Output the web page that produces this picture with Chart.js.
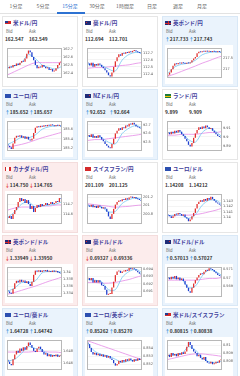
<!DOCTYPE html>
<html>
<head>
<meta charset="utf-8">
<script src="https://cdn.jsdelivr.net/npm/chart.js@4/dist/chart.umd.min.js"></script>
<style>
  html, body { margin: 0; padding: 0; background: #fff; }
  body { width: 240px; height: 376px; position: relative; overflow: hidden; font-family: "Noto Sans CJK JP", "Noto Sans", sans-serif; }
  .tab { position: absolute; top: 2px; width: 28px; margin-left: -14px; text-align: center; font-size: 5px; line-height: 8px; color: #666; }
  .tab.on { color: #2d72d2; }
  #tabline { position: absolute; left: 0; top: 13px; width: 240px; height: 1px; background: #e2e2e2; }
  #tabsel { position: absolute; left: 57px; top: 12px; width: 28px; height: 2px; background: #2d72d2; }
  .card { position: absolute; width: 74px; height: 69px; border: 1px solid #e6e6e6; background: #fff; }
  .card.up { background: #eaf3fc; border-color: #d9e8f6; }
  .card.down { background: #fcecec; border-color: #f3dcdc; }
  .flag { position: absolute; left: 2px; top: 4px; width: 6px; height: 4px; }
  .title { position: absolute; left: 10px; top: 2px; font-size: 5.5px; line-height: 8px; font-weight: bold; color: #41409b; white-space: nowrap; }
  .lbl { position: absolute; top: 11px; font-size: 4.2px; line-height: 6px; color: #666; }
  .val { position: absolute; top: 18px; font-size: 4.8px; line-height: 7px; font-weight: bold; color: #333; white-space: nowrap; }
  .val .u { color: #2a8ad8; }
  .val .d { color: #e03030; }
  .box { position: absolute; left: 2px; top: 28px; width: 68px; height: 39px; background: #fff; }
</style>
</head>
<body>
<div id="tabline"></div>
<div id="tabsel"></div>
<script>
// tabs
const tabNames = ['1分足', '5分足', '15分足', '30分足', '1時間足', '日足', '週足', '月足'];
const tabX = [16, 43, 70, 97, 125, 152, 178, 202];
const activeTab = 2;

// 15-minute candles, 21:15 .. 5:00
const times = ['21:15','21:30','21:45','22:00','22:15','22:30','22:45','23:00','23:15','23:30','23:45','0:00',
  '0:15','0:30','0:45','1:00','1:15','1:30','1:45','2:00','2:15','2:30','2:45','3:00','3:15','3:30','3:45','4:00',
  '4:15','4:30','4:45','5:00'];
const shownTimes = ['23:00', '1:00', '3:00', '5:00'];
// the moving average lines are read at these candle positions
const maIdx = [0, 4, 8, 12, 16, 20, 24, 28, 31];

const titles = ['米ドル/円', '豪ドル/円', '英ポンド/円', 'ユーロ/円', 'NZドル/円', 'ランド/円', 'カナダドル/円', 'スイスフラン/円',
  'ユーロ/ドル', '英ポンド/ドル', '豪ドル/ドル', 'NZドル/ドル', 'ユーロ/豪ドル', 'ユーロ/英ポンド', '米ドル/スイスフラン'];
const flags = ['usd', 'aud', 'gbp', 'eur', 'nzd', 'zar', 'cad', 'chf', 'eur', 'gbp', 'aud', 'nzd', 'eur', 'eur', 'usd'];
const bids = ['162.547', '112.694', '217.733', '185.652', '92.652', '9.899', '114.750', '201.109',
  '1.14208', '1.33949', '0.69327', '0.57013', '1.64728', '0.85262', '0.80815'];
const asks = ['162.549', '112.701', '217.743', '185.657', '92.664', '9.909', '114.765', '201.125',
  '1.14212', '1.33950', '0.69336', '0.57027', '1.64742', '0.85270', '0.80838'];
const arrows = ['', '', 'u', 'u', 'u', '', 'd', '', '', 'd', 'd', 'u', 'u', 'u', 'u'];

const usdjpyClose = [162.46,162.48,162.47,162.50,162.49,162.52,162.50,162.53,162.55,162.54,162.58,162.64,162.68,162.66,162.60,162.56,
  162.50,162.46,162.48,162.47,162.50,162.48,162.46,162.47,162.44,162.45,162.42,162.43,162.46,162.50,162.53,162.547];
const usdjpyLong = [162.38,162.42,162.46,162.50,162.53,162.53,162.53,162.53,162.53];
const usdjpyShort = [162.47,162.49,162.53,162.63,162.58,162.50,162.47,162.45,162.48];
const usdjpyTicks = [162.4, 162.5, 162.6, 162.7];

const audjpyClose = [112.55,112.52,112.56,112.50,112.54,112.52,112.55,112.53,112.50,112.48,112.45,112.42,112.38,112.36,112.42,112.50,
  112.58,112.64,112.68,112.66,112.70,112.69,112.71,112.70,112.72,112.71,112.73,112.74,112.72,112.71,112.70,112.694];
const audjpyLong = [112.48,112.49,112.49,112.50,112.51,112.52,112.53,112.55,112.56];
const audjpyShort = [112.54,112.53,112.52,112.47,112.44,112.60,112.68,112.71,112.70];
const audjpyTicks = [112.4, 112.5, 112.6, 112.7];

const gbpjpyClose = [216.75,216.85,217.00,217.15,217.25,217.22,217.28,217.25,217.30,217.27,217.24,217.28,217.26,217.30,217.40,217.48,
  217.55,217.72,217.78,217.76,217.80,217.78,217.82,217.79,217.80,217.77,217.81,217.78,217.76,217.79,217.77,217.74];
const gbpjpyLong = [216.68,216.78,216.90,217.02,217.14,217.27,217.38,217.50,217.58];
const gbpjpyShort = [216.80,217.10,217.22,217.27,217.40,217.65,217.75,217.78,217.77];
const gbpjpyTicks = [217, 217.5];

const eurjpyClose = [185.25,185.22,185.18,185.30,185.42,185.46,185.44,185.47,185.42,185.45,185.40,185.44,185.38,185.36,185.40,185.52,
  185.63,185.66,185.64,185.67,185.65,185.68,185.66,185.69,185.67,185.70,185.68,185.66,185.69,185.67,185.68,185.652];
const eurjpyLong = [185.22,185.25,185.28,185.32,185.37,185.42,185.46,185.50,185.53];
const eurjpyShort = [185.28,185.35,185.43,185.42,185.48,185.60,185.65,185.67,185.67];
const eurjpyTicks = [185.2, 185.4, 185.6];

const nzdjpyClose = [92.58,92.56,92.59,92.55,92.57,92.55,92.58,92.56,92.53,92.51,92.48,92.46,92.44,92.43,92.48,92.54,
  92.60,92.63,92.66,92.64,92.67,92.66,92.69,92.68,92.71,92.70,92.72,92.70,92.68,92.67,92.66,92.652];
const nzdjpyLong = [92.52,92.53,92.53,92.54,92.55,92.56,92.57,92.58,92.59];
const nzdjpyShort = [92.57,92.56,92.55,92.50,92.48,92.60,92.66,92.69,92.67];
const nzdjpyTicks = [92.5, 92.6, 92.7];

const zarjpyClose = [9.905,9.903,9.906,9.904,9.907,9.905,9.908,9.906,9.903,9.901,9.898,9.895,9.891,9.889,9.893,9.899,
  9.904,9.908,9.911,9.909,9.912,9.910,9.913,9.911,9.909,9.910,9.907,9.905,9.903,9.901,9.900,9.899];
const zarjpyLong = [9.902,9.902,9.903,9.903,9.903,9.904,9.905,9.905,9.906];
const zarjpyShort = [9.905,9.905,9.905,9.897,9.894,9.905,9.910,9.906,9.901];
const zarjpyTicks = [9.89, 9.9, 9.91];

const cadjpyClose = [114.56,114.58,114.55,114.60,114.64,114.67,114.72,114.76,114.73,114.75,114.71,114.74,114.70,114.65,114.68,114.62,
  114.66,114.69,114.67,114.70,114.68,114.69,114.71,114.69,114.70,114.72,114.70,114.71,114.73,114.72,114.76,114.75];
const cadjpyLong = [114.64,114.66,114.67,114.67,114.67,114.68,114.68,114.69,114.69];
const cadjpyShort = [114.57,114.62,114.70,114.72,114.67,114.68,114.69,114.70,114.72];
const cadjpyTicks = [114.6, 114.7];

const chfjpyClose = [201.00,200.97,201.02,200.96,200.99,200.94,201.00,200.97,200.93,200.96,200.92,200.85,200.74,200.68,200.80,200.92,
  201.02,201.08,201.12,201.10,201.15,201.13,201.17,201.14,201.19,201.21,201.18,201.20,201.16,201.15,201.13,201.109];
const chfjpyLong = [201.04,201.02,201.00,200.98,200.96,200.97,200.98,201.00,201.01];
const chfjpyShort = [200.99,200.98,200.96,200.85,200.86,201.05,201.14,201.18,201.16];
const chfjpyTicks = [200.8, 201, 201.2];

const eurusdClose = [1.1404,1.1402,1.1399,1.1402,1.1406,1.1405,1.1408,1.1406,1.1403,1.1405,1.1400,1.1398,1.1393,1.1396,1.1402,1.1408,
  1.1416,1.1424,1.1428,1.1431,1.1428,1.1433,1.1430,1.1435,1.1432,1.1437,1.1433,1.1430,1.1427,1.1425,1.1423,1.14208];
const eurusdLong = [1.1403,1.1403,1.1404,1.1404,1.1405,1.1407,1.1410,1.1413,1.1416];
const eurusdShort = [1.1403,1.1404,1.1404,1.1398,1.1405,1.1422,1.1431,1.1431,1.1425];
const eurusdTicks = [1.14, 1.141, 1.142, 1.143];

const gbpusdClose = [1.3345,1.3340,1.3338,1.3352,1.3368,1.3375,1.3370,1.3378,1.3372,1.3376,1.3369,1.3374,1.3366,1.3360,1.3372,1.3392,
  1.3404,1.3401,1.3405,1.3400,1.3404,1.3402,1.3406,1.3401,1.3403,1.3400,1.3404,1.3401,1.3403,1.3399,1.3397,1.33949];
const gbpusdLong = [1.3337,1.3342,1.3348,1.3354,1.3360,1.3367,1.3374,1.3380,1.3385];
const gbpusdShort = [1.3345,1.3355,1.3370,1.3370,1.3375,1.3398,1.3402,1.3402,1.3400];
const gbpusdTicks = [1.334, 1.336, 1.338, 1.34];

const audusdClose = [0.6928,0.6925,0.6928,0.6922,0.6925,0.6922,0.6925,0.6922,0.6918,0.6917,0.6912,0.6905,0.6906,0.6906,0.6915,0.6923,
  0.6932,0.6937,0.6938,0.6935,0.6937,0.6937,0.6939,0.6938,0.6942,0.6940,0.6941,0.6940,0.6938,0.6936,0.6934,0.69327];
const audusdLong = [0.6922,0.6922,0.6921,0.6921,0.6922,0.6924,0.6926,0.6929,0.6931];
const audusdShort = [0.6926,0.6925,0.6923,0.6912,0.6912,0.6929,0.6937,0.6940,0.6936];
const audusdTicks = [0.691, 0.692, 0.693, 0.694];

const nzdusdClose = [0.5700,0.5698,0.5701,0.5699,0.5702,0.5698,0.5700,0.5697,0.5699,0.5696,0.5692,0.5688,0.5684,0.5682,0.5688,0.5693,
  0.5697,0.5700,0.5703,0.5705,0.5704,0.5707,0.5709,0.5708,0.5711,0.5710,0.5709,0.5707,0.5705,0.5703,0.5702,0.57013];
const nzdusdLong = [0.5697,0.5697,0.5697,0.5697,0.5697,0.5698,0.5699,0.5699,0.5700];
const nzdusdShort = [0.5700,0.5699,0.5698,0.5688,0.5690,0.5702,0.5709,0.5707,0.5703];
const nzdusdTicks = [0.569, 0.57, 0.571];

const euraudClose = [1.6462,1.6458,1.6456,1.6466,1.6474,1.6480,1.6477,1.6484,1.6480,1.6486,1.6482,1.6488,1.6494,1.6490,1.6485,1.6480,
  1.6478,1.6484,1.6487,1.6483,1.6478,1.6474,1.6476,1.6471,1.6474,1.6470,1.6473,1.6471,1.6474,1.6470,1.6472,1.64728];
const euraudLong = [1.6478,1.6478,1.6478,1.6478,1.6479,1.6479,1.6478,1.6478,1.6477];
const euraudShort = [1.6463,1.6466,1.6476,1.6487,1.6484,1.6481,1.6474,1.6472,1.6472];
const euraudTicks = [1.646, 1.648];

const eurgbpClose = [0.8545,0.8540,0.8535,0.8532,0.8534,0.8531,0.8533,0.8530,0.8532,0.8529,0.8531,0.8528,0.8530,0.8527,0.8525,0.8521,
  0.8518,0.8520,0.8524,0.8522,0.8525,0.8523,0.8526,0.8524,0.8527,0.8525,0.8523,0.8526,0.8524,0.8527,0.8525,0.85262];
const eurgbpLong = [0.8549,0.8546,0.8543,0.8540,0.8537,0.8534,0.8531,0.8528,0.8526];
const eurgbpShort = [0.8545,0.8536,0.8532,0.8530,0.8526,0.8522,0.8524,0.8525,0.8526];
const eurgbpTicks = [0.852, 0.853, 0.854];

const usdchfClose = [0.8088,0.8085,0.8090,0.8087,0.8089,0.8086,0.8090,0.8088,0.8091,0.8089,0.8092,0.8098,0.8104,0.8100,0.8095,0.8092,
  0.8090,0.8086,0.8088,0.8084,0.8082,0.8085,0.8080,0.8078,0.8077,0.8079,0.8076,0.8077,0.8079,0.8078,0.8081,0.80815];
const usdchfLong = [0.8082,0.8084,0.8086,0.8088,0.8089,0.8089,0.8088,0.8087,0.8086];
const usdchfShort = [0.8087,0.8088,0.8089,0.8098,0.8094,0.8084,0.8079,0.8078,0.8080];
const usdchfTicks = [0.808, 0.809, 0.81];

const firstOpen = [162.47, 112.56, 216.70, 185.28, 92.57, 9.904, 114.57, 201.02, 1.1405, 1.3348, 0.6927, 0.5699, 1.6465, 0.8547, 0.8086];
const yMin = [162.34, 112.34, 216.60, 185.14, 92.40, 9.884, 114.50, 200.56, 1.1388, 1.3329, 0.6902, 0.56771, 1.6448, 0.85125, 0.80688];
const yMax = [162.71, 112.77, 217.95, 185.77, 92.74, 9.918, 114.80, 201.27, 1.1442, 1.3414, 0.6943, 0.57124, 1.6498, 0.85500, 0.81063];

const closes = [usdjpyClose, audjpyClose, gbpjpyClose, eurjpyClose, nzdjpyClose, zarjpyClose, cadjpyClose, chfjpyClose,
  eurusdClose, gbpusdClose, audusdClose, nzdusdClose, euraudClose, eurgbpClose, usdchfClose];
const longMas = [usdjpyLong, audjpyLong, gbpjpyLong, eurjpyLong, nzdjpyLong, zarjpyLong, cadjpyLong, chfjpyLong,
  eurusdLong, gbpusdLong, audusdLong, nzdusdLong, euraudLong, eurgbpLong, usdchfLong];
const shortMas = [usdjpyShort, audjpyShort, gbpjpyShort, eurjpyShort, nzdjpyShort, zarjpyShort, cadjpyShort, chfjpyShort,
  eurusdShort, gbpusdShort, audusdShort, nzdusdShort, euraudShort, eurgbpShort, usdchfShort];
const tickLists = [usdjpyTicks, audjpyTicks, gbpjpyTicks, eurjpyTicks, nzdjpyTicks, zarjpyTicks, cadjpyTicks, chfjpyTicks,
  eurusdTicks, gbpusdTicks, audusdTicks, nzdusdTicks, euraudTicks, eurgbpTicks, usdchfTicks];

const flagCss = {
  usd: 'linear-gradient(#243a8c,#243a8c) 0 0/3px 2px no-repeat, repeating-linear-gradient(#d42a2a 0 0.6px,#fff 0.6px 1.2px)',
  aud: 'linear-gradient(#d42a2a,#d42a2a) 1px 1px/1px 1px no-repeat, #1f2c78',
  nzd: 'linear-gradient(#d42a2a,#d42a2a) 4px 1px/1px 1px no-repeat, #1f2c78',
  gbp: 'linear-gradient(#d42a2a,#d42a2a) 0 1.5px/6px 1px no-repeat, linear-gradient(#d42a2a,#d42a2a) 2.5px 0/1px 4px no-repeat, #1f2c78',
  eur: '#2c4fb0',
  zar: 'linear-gradient(#f2c200,#f2c200) 0 1.5px/6px 1px no-repeat, #1d7a3c',
  cad: 'linear-gradient(90deg,#d42a2a 0 1.5px,#fff 1.5px 4.5px,#d42a2a 4.5px)',
  chf: '#d42a2a'
};

const frame = {
  id: 'frame',
  afterDatasetsDraw(chart) {
    const a = chart.chartArea, c = chart.ctx;
    c.save();
    c.strokeStyle = '#b8b8b8';
    c.lineWidth = 1;
    c.strokeRect(Math.round(a.left) + 0.5, Math.round(a.top) + 0.5, Math.round(a.right - a.left) - 1, Math.round(a.bottom - a.top) - 1);
    c.restore();
  }
};

tabNames.forEach((t, i) => {
  const d = document.createElement('div');
  d.className = 'tab' + (i === activeTab ? ' on' : '');
  d.style.left = tabX[i] + 'px';
  d.textContent = t;
  document.body.appendChild(d);
});

function spread(vals) {
  const arr = times.map(() => null);
  maIdx.forEach((ix, k) => { arr[ix] = vals[k]; });
  return arr;
}

titles.forEach((title, i) => {
  const col = i % 3, row = Math.floor(i / 3);
  const card = document.createElement('div');
  card.className = 'card' + (arrows[i] === 'u' ? ' up' : arrows[i] === 'd' ? ' down' : '');
  card.style.left = (2 + col * 80) + 'px';
  card.style.top = (16 + row * 73) + 'px';
  const ar = arrows[i] === 'u' ? '<span class="u">↑</span>' : arrows[i] === 'd' ? '<span class="d">↓</span>' : '';
  card.innerHTML =
    `<div class="flag" style="background:${flagCss[flags[i]]}"></div>` +
    `<div class="title">${title}</div>` +
    `<div class="lbl" style="left:3px">Bid</div><div class="lbl" style="left:26px">Ask</div>` +
    `<div class="val" style="left:2px">${ar}${bids[i]}</div><div class="val" style="left:26px">${ar}${asks[i]}</div>` +
    `<div class="box"><canvas width="68" height="39"></canvas></div>`;
  document.body.appendChild(card);

  const cl = closes[i];
  const bodies = cl.map((c, k) => [k === 0 ? firstOpen[i] : cl[k - 1], c]);
  const colors = bodies.map(b => b[1] >= b[0] ? '#e2312f' : '#1f3fcf');
  const tks = tickLists[i];

  new Chart(card.querySelector('canvas'), {
    type: 'bar',
    data: {
      labels: times,
      datasets: [
        { type: 'bar', data: bodies, backgroundColor: colors, borderWidth: 0, barPercentage: 0.75, categoryPercentage: 1, minBarLength: 1, order: 0 },
        { type: 'line', data: spread(shortMas[i]), borderColor: '#74c6f2', borderWidth: 0.8, pointRadius: 0, spanGaps: true, tension: 0.3, order: 1 },
        { type: 'line', data: spread(longMas[i]), borderColor: '#e48ae6', borderWidth: 0.8, pointRadius: 0, spanGaps: true, tension: 0.3, order: 2 }
      ]
    },
    options: {
      responsive: false, animation: false, devicePixelRatio: 1,
      layout: { padding: { left: 2, top: 2, right: 0, bottom: 0 } },
      plugins: { legend: { display: false }, tooltip: { enabled: false } },
      scales: {
        x: {
          grid: { display: false }, border: { display: false },
          ticks: { font: { size: 3.5, family: 'DejaVu Sans' }, color: '#555', padding: 0, maxRotation: 0, autoSkip: false,
            callback: (v, k) => shownTimes.includes(times[k]) ? times[k] : '' },
          afterFit: s => { s.height = 6; }
        },
        y: {
          position: 'right', min: yMin[i], max: yMax[i],
          grid: { color: '#ececec', lineWidth: 0.6, drawTicks: false }, border: { display: false },
          ticks: { font: { size: 3.5, family: 'DejaVu Sans' }, color: '#555', padding: 1, callback: v => String(v) },
          afterBuildTicks: s => { s.ticks = tks.map(v => ({ value: v })); },
          afterFit: s => { s.width = 11; }
        }
      }
    },
    plugins: [frame]
  });
});
</script>
</body>
</html>
